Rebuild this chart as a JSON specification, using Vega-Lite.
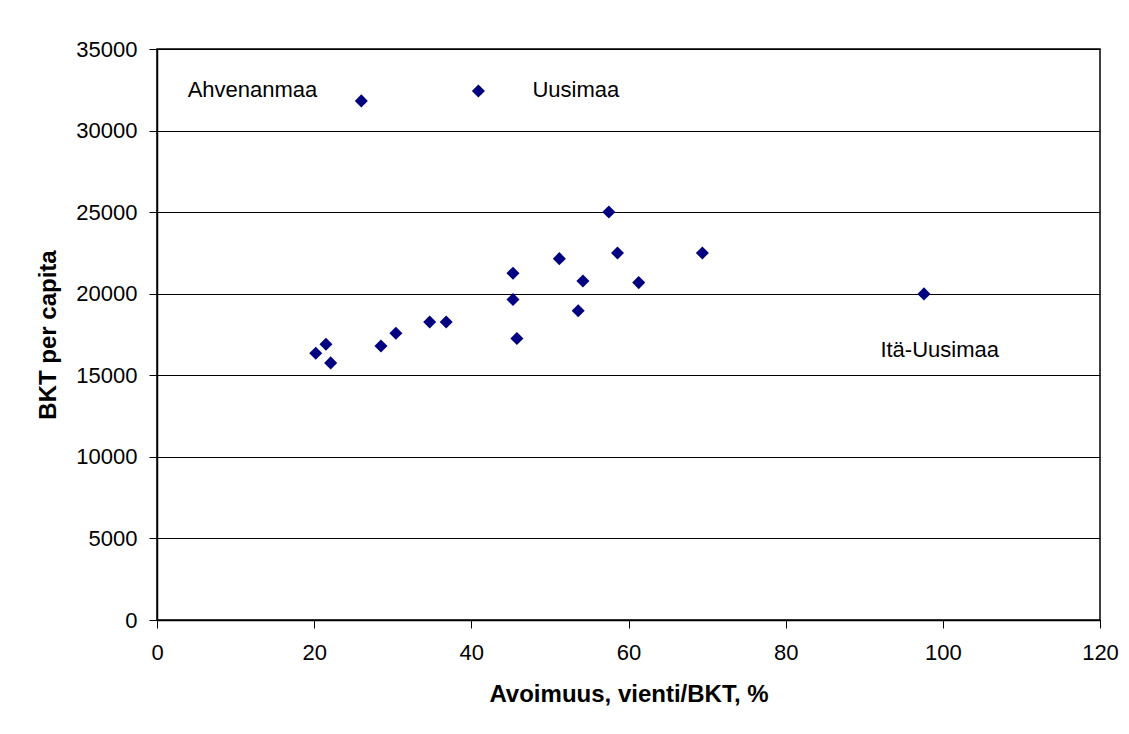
{
  "$schema": "https://vega.github.io/schema/vega-lite/v6.json",
  "width": 943,
  "height": 571,
  "autosize": {"type": "none"},
  "padding": {"left": 157, "top": 49, "right": 29, "bottom": 114},
  "background": "white",
  "config": {
    "font": "Liberation Sans",
    "view": {"stroke": "#000000", "strokeWidth": 1.5},
    "axis": {
      "domainColor": "#000000",
      "domainWidth": 1.5,
      "tickColor": "#000000",
      "tickSize": 8,
      "tickWidth": 1,
      "labelColor": "#000000",
      "labelFont": "Liberation Sans",
      "labelFontSize": 22,
      "titleColor": "#000000",
      "titleFont": "Liberation Sans",
      "titleFontWeight": "bold",
      "gridColor": "#000000",
      "gridWidth": 1,
      "gridOpacity": 1
    }
  },
  "datasets": {
    "points": [
      {"region": "Ahvenanmaa", "avoimuus": 26.0, "bkt": 31820},
      {"region": "Uusimaa", "avoimuus": 40.9, "bkt": 32430},
      {"region": "A", "avoimuus": 57.5, "bkt": 25010},
      {"region": "B", "avoimuus": 20.2, "bkt": 16350},
      {"region": "C", "avoimuus": 21.5, "bkt": 16900},
      {"region": "D", "avoimuus": 22.1, "bkt": 15760},
      {"region": "E", "avoimuus": 28.5, "bkt": 16800},
      {"region": "F", "avoimuus": 30.4, "bkt": 17580},
      {"region": "G", "avoimuus": 34.7, "bkt": 18270},
      {"region": "H", "avoimuus": 36.8, "bkt": 18270},
      {"region": "I", "avoimuus": 45.3, "bkt": 21260},
      {"region": "J", "avoimuus": 45.3, "bkt": 19640},
      {"region": "K", "avoimuus": 45.8, "bkt": 17250},
      {"region": "L", "avoimuus": 51.2, "bkt": 22150},
      {"region": "M", "avoimuus": 53.6, "bkt": 18960},
      {"region": "N", "avoimuus": 54.2, "bkt": 20780},
      {"region": "O", "avoimuus": 58.6, "bkt": 22500},
      {"region": "P", "avoimuus": 61.3, "bkt": 20680},
      {"region": "Q", "avoimuus": 69.4, "bkt": 22500},
      {"region": "Itä-Uusimaa", "avoimuus": 97.6, "bkt": 19990}
    ],
    "labels": [
      {"label": "Ahvenanmaa", "lx": 12.15, "ly": 32080},
      {"label": "Uusimaa", "lx": 53.3, "ly": 32080},
      {"label": "Itä-Uusimaa", "lx": 99.6, "ly": 16150}
    ]
  },
  "layer": [
    {
      "data": {"name": "points"},
      "mark": {"type": "point", "shape": "diamond", "filled": true, "size": 170, "color": "#000080", "opacity": 1},
      "encoding": {
        "x": {
          "field": "avoimuus",
          "type": "quantitative",
          "scale": {"domain": [0, 120], "nice": false, "zero": true},
          "axis": {
            "title": "Avoimuus, vienti/BKT, %",
            "titleFontSize": 24,
            "titlePadding": 19,
            "values": [0, 20, 40, 60, 80, 100, 120],
            "grid": false,
            "labelPadding": 14,
            "labelFlush": false
          }
        },
        "y": {
          "field": "bkt",
          "type": "quantitative",
          "scale": {"domain": [0, 35000], "nice": false},
          "axis": {
            "title": "BKT per capita",
            "titleFontSize": 24,
            "titlePadding": 15,
            "values": [0, 5000, 10000, 15000, 20000, 25000, 30000, 35000],
            "format": "d",
            "grid": true,
            "labelPadding": 12,
            "labelFlush": false
          }
        }
      }
    },
    {
      "data": {"name": "labels"},
      "mark": {"type": "text", "font": "Liberation Sans", "fontSize": 22, "color": "#000000", "align": "center", "baseline": "alphabetic"},
      "encoding": {
        "x": {"field": "lx", "type": "quantitative"},
        "y": {"field": "ly", "type": "quantitative"},
        "text": {"field": "label"}
      }
    }
  ]
}
